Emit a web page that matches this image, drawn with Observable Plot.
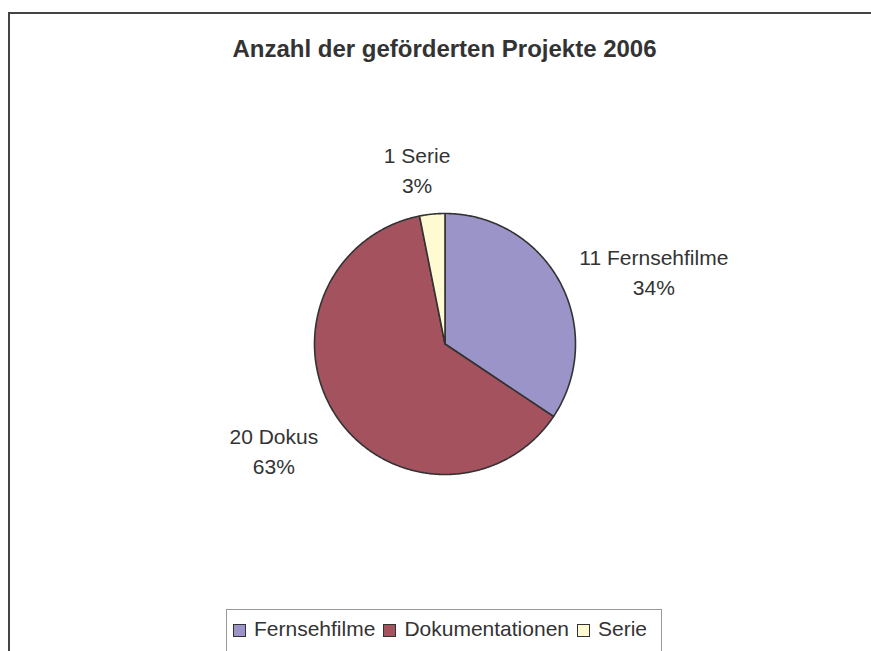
<!DOCTYPE html>
<html>
<head>
<meta charset="utf-8">
<script src="https://cdn.jsdelivr.net/npm/d3@7"></script>
<script src="https://cdn.jsdelivr.net/npm/@observablehq/plot@0.6"></script>
<style>
  html, body { margin: 0; padding: 0; background: #fff; }
  #wrap { position: relative; width: 871px; height: 651px; overflow: hidden; font-family: "Liberation Sans", Arial, sans-serif; color: #333; }
  #frame { position: absolute; left: 8px; top: 12px; width: 900px; height: 700px; border-left: 2px solid #444; border-top: 2px solid #444; box-sizing: border-box; }
  #title { position: absolute; left: 0; width: 889px; top: 37px; text-align: center; font-weight: bold; font-size: 24px; line-height: 24px; color: #333; }
  #chart { position: absolute; left: 0; top: 0; }
  #legend { position: absolute; left: 226px; top: 609px; width: 436px; height: 44px; border: 1px solid #999; box-sizing: border-box; background: #fff; display: flex; align-items: center; padding-left: 6px; padding-bottom: 4px; font-size: 21px; }
  .item { display: flex; align-items: center; margin-right: 8px; }
  .sw { width: 11px; height: 11px; border: 1px solid #333; margin-right: 8px; margin-top: 3px; }
</style>
</head>
<body>
<div id="wrap">
  <div id="frame"></div>
  <div id="chart"></div>
  <div id="title">Anzahl der geförderten Projekte 2006</div>
  <div id="legend"></div>
</div>
<script>
const categories = ["Fernsehfilme", "Dokumentationen", "Serie"];
const labelNames = ["Fernsehfilme", "Dokus", "Serie"];
const counts = [11, 20, 1];
const palette = ["#9b94c8", "#a3525e", "#fffad2"];

const W = 871, H = 651;
const mL = 314, mR = 296, mT = 213, mB = 177;
const rpx = (W - mL - mR) / 2;
const labelFont = 21, labelLH = 1.42;

const total = d3.sum(counts);
const pie = d3.pie().sort(null).value(d => d.count)(categories.map((c, i) => ({cat: c, count: counts[i], name: labelNames[i]})));

// slice outlines
const pts = [];
for (const s of pie) {
  pts.push({cat: s.data.cat, x: 0, y: 0});
  const n = Math.max(2, Math.ceil((s.endAngle - s.startAngle) / (Math.PI / 360)));
  for (let k = 0; k <= n; k++) {
    const a = s.startAngle + (s.endAngle - s.startAngle) * k / n;
    pts.push({cat: s.data.cat, x: Math.sin(a), y: Math.cos(a)});
  }
}

// labels
const ctx = document.createElement("canvas").getContext("2d");
ctx.font = `${labelFont}px "Liberation Sans", Arial, sans-serif`;
const labels = pie.map(s => {
  const mid = (s.startAngle + s.endAngle) / 2;
  const sx = Math.sin(mid), cy = Math.cos(mid);
  const text = `${s.data.count} ${s.data.name}\n${Math.round(100 * s.data.count / total)}%`;
  const w = d3.max(text.split("\n"), t => ctx.measureText(t).width);
  const h = 2 * labelFont * labelLH;
  const R = 1.15;
  let x = sx * R, y = cy * R;
  if (Math.abs(sx) > 0.5) x += Math.sign(sx) * (w / 2 + 2) / rpx;
  else x = sx * R * 1.9;
  if (cy > 0.5) y += (h / 2 - 4) / rpx;
  else if (cy < -0.5) y -= (h / 2 - 8) / rpx;
  else y += 0.02;
  return {text, x, y};
});

const plot = Plot.plot({
  width: W, height: H,
  marginLeft: mL, marginRight: mR, marginTop: mT, marginBottom: mB,
  x: {domain: [-1, 1], axis: null},
  y: {domain: [-1, 1], axis: null},
  color: {domain: categories, range: palette},
  style: {background: "transparent", overflow: "visible"},
  marks: [
    Plot.line(pts, {x: "x", y: "y", z: "cat", fill: "cat", stroke: "#333", strokeWidth: 1.6, curve: "linear-closed", strokeLinejoin: "round"}),
    Plot.text(labels, {x: "x", y: "y", text: "text", fontSize: labelFont, lineHeight: labelLH, fill: "#333", textAnchor: "middle", lineAnchor: "middle", fontFamily: "Liberation Sans, Arial, sans-serif"})
  ]
});
document.getElementById("chart").appendChild(plot);

const legend = document.getElementById("legend");
categories.forEach((c, i) => {
  const it = document.createElement("div");
  it.className = "item";
  const sw = document.createElement("div");
  sw.className = "sw";
  sw.style.background = palette[i];
  const t = document.createElement("span");
  t.textContent = c;
  it.appendChild(sw); it.appendChild(t);
  legend.appendChild(it);
});
</script>
</body>
</html>
